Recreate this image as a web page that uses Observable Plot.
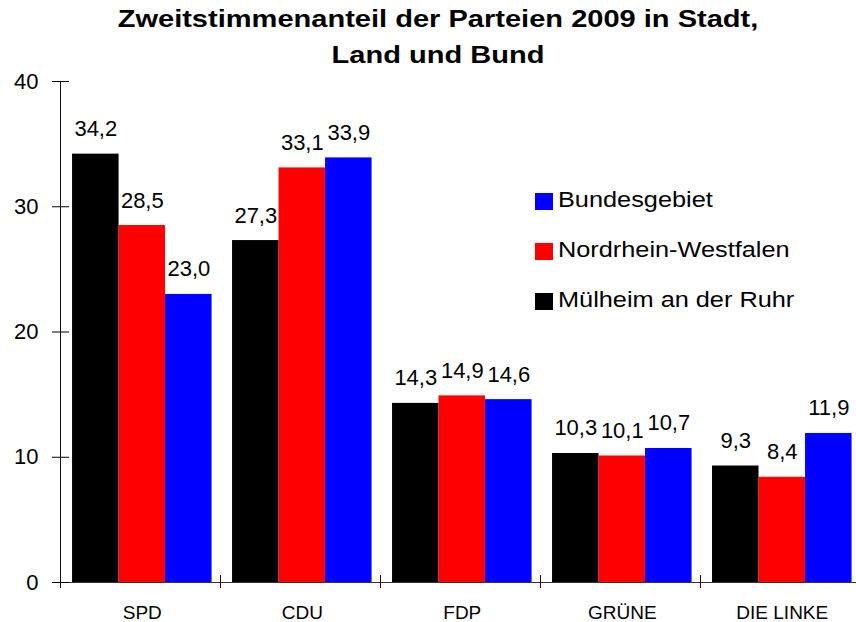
<!DOCTYPE html>
<html>
<head>
<meta charset="utf-8">
<script src="https://cdn.jsdelivr.net/npm/d3@7"></script>
<script src="https://cdn.jsdelivr.net/npm/@observablehq/plot@0.6"></script>
<style>
  html, body { margin: 0; padding: 0; background: #fff; overflow: hidden; }
  #wrap { position: relative; width: 856px; height: 622px; font-family: "Liberation Sans", Arial, sans-serif; color: #000; }
  #chart { position: absolute; left: 0; top: 0; }
  #chart svg g[aria-label="y-axis tick label"] { font-size: 22px; }
  #chart svg g[aria-label="x-axis tick label"] { font-size: 19px; }
  #title { position: absolute; left: 0; top: 1px; width: 836px; padding-left: 20px; text-align: center;
           font-weight: bold; font-size: 24px; line-height: 36px; transform: scaleX(1.21); transform-origin: 438px 0; z-index: 2; }
  .leg { position: absolute; left: 535px; height: 22px; font-size: 22px; line-height: 22px; white-space: nowrap; z-index: 2; }
  .leg .sw { position: absolute; left: 0; top: 4px; width: 18px; height: 17px; }
  .leg .lab { position: absolute; left: 23px; top: 0; transform: scaleX(1.15); transform-origin: 0 0; }
</style>
</head>
<body>
<div id="wrap">
  <div id="chart"></div>
  <div id="title">Zweitstimmenanteil der Parteien 2009 in Stadt,<br>Land und Bund</div>
</div>
<script>
// ---- data ----
const parties = ["SPD", "CDU", "FDP", "GRÜNE", "DIE LINKE"];
const series = ["Mülheim an der Ruhr", "Nordrhein-Westfalen", "Bundesgebiet"];
const seriesColors = ["#000000", "#ff0000", "#0000ff"];
const muelheim = [34.2, 27.3, 14.3, 10.3, 9.3];
const nrw = [28.5, 33.1, 14.9, 10.1, 8.4];
const bund = [23.0, 33.9, 14.6, 10.7, 11.9];
const yTicks = [0, 10, 20, 30, 40];
const legendOrder = ["Bundesgebiet", "Nordrhein-Westfalen", "Mülheim an der Ruhr"];

// ---- layout ----
const W = 856, H = 622, ML = 60, MR = 0, MT = 81, MB = 40;
const xOpts = {domain: parties, paddingInner: 0.128, paddingOuter: 0.0516, align: 0.73, round: false};

const values = [muelheim, nrw, bund];
const rows = parties.flatMap((p, j) => series.map((s, i) => ({party: p, series: s, value: values[i][j]})));
const fmt = v => v.toFixed(1).replace(".", ",");

const xs = Plot.scale({x: {type: "band", ...xOpts, range: [ML, W - MR]}});
const bw = xs.bandwidth;
const sub = bw / series.length;
const edgeDx = ML - (xs.apply(parties[0]) + bw / 2);

const marks = [];
series.forEach((s, i) => {
  marks.push(Plot.barY(rows.filter(d => d.series === s), {
    x: "party", y: "value", fill: "series",
    insetLeft: i * sub, insetRight: (series.length - 1 - i) * sub
  }));
});
series.forEach((s, i) => {
  marks.push(Plot.text(rows.filter(d => d.series === s), {
    x: "party", y: "value", text: d => fmt(d.value),
    dx: (i - (series.length - 1) / 2) * sub, dy: -18, lineAnchor: "bottom",
    fontSize: 22, fill: "#000"
  }));
});
// axes
marks.push(Plot.ruleY([0], {y: d => d, insetLeft: -8, stroke: "#333"}));
marks.push(Plot.ruleX([parties[0]], {x: d => d, dx: edgeDx, insetBottom: -6, stroke: "#111"}));
marks.push(Plot.ruleX(parties, {x: d => d, dx: edgeDx, y1: 0, y2: 0, insetTop: -7, insetBottom: -6, stroke: "#111"}));
marks.push(Plot.axisY({ticks: yTicks, tickSize: 17, dx: 9, tickPadding: 14, fontSize: 22, label: null, tickFormat: d => String(d)}));
marks.push(Plot.axisX({tickSize: 0, tickPadding: 23, fontSize: 19, label: null}));

const chart = Plot.plot({
  width: W, height: H,
  marginLeft: ML, marginRight: MR, marginTop: MT, marginBottom: MB,
  style: {fontFamily: "'Liberation Sans', Arial, sans-serif", color: "#000", background: "transparent"},
  x: {...xOpts, label: null},
  y: {domain: [0, 40], label: null},
  color: {domain: series, range: seriesColors},
  marks
});
document.getElementById("chart").appendChild(chart);

// legend (HTML)
const legTops = [188.5, 238.8, 289];
const wrap = document.getElementById("wrap");
legendOrder.forEach((name, k) => {
  const row = document.createElement("div");
  row.className = "leg";
  row.style.top = legTops[k] + "px";
  const sw = document.createElement("div");
  sw.className = "sw";
  sw.style.background = seriesColors[series.indexOf(name)];
  const lab = document.createElement("span");
  lab.className = "lab";
  lab.textContent = name;
  row.appendChild(sw);
  row.appendChild(lab);
  wrap.appendChild(row);
});
</script>
</body>
</html>
